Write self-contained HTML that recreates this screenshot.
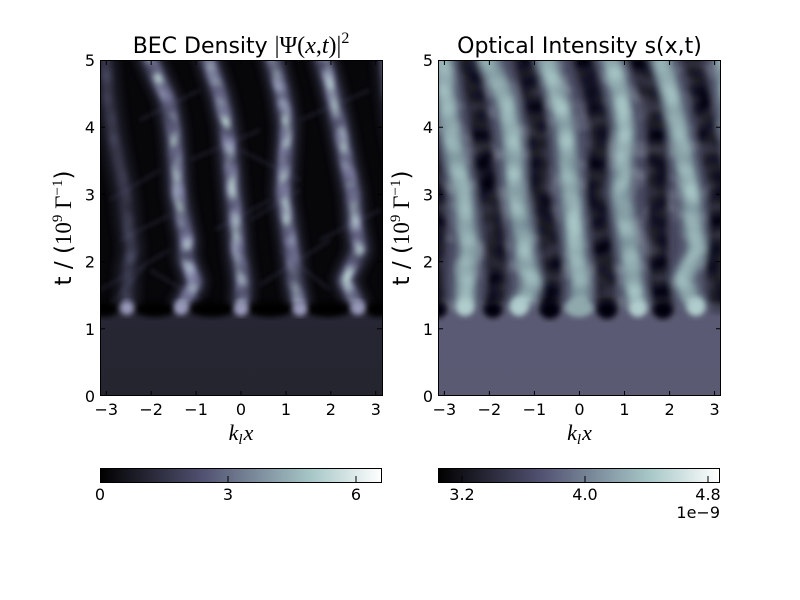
<!DOCTYPE html>
<html><head><meta charset="utf-8"><style>
html,body{margin:0;padding:0;background:#fff;}
svg{display:block;}
text{font-family:"DejaVu Sans","Liberation Sans",sans-serif;fill:#000;}
.m{font-family:"Liberation Serif","DejaVu Serif",serif;}
</style></head><body>
<svg width="800" height="600" viewBox="0 0 800 600" xmlns="http://www.w3.org/2000/svg">
<defs>
  <linearGradient id="bone" x1="0" y1="0" x2="1" y2="0">
    <stop offset="0" stop-color="#000000"/>
    <stop offset="0.365" stop-color="#515171"/>
    <stop offset="0.746" stop-color="#a6c6c6"/>
    <stop offset="1" stop-color="#ffffff"/>
  </linearGradient>
  <linearGradient id="lowL" x1="0" y1="0" x2="0" y2="1">
    <stop offset="0" stop-color="#262634" stop-opacity="0"/>
    <stop offset="0.18" stop-color="#262634" stop-opacity="1"/>
    <stop offset="1" stop-color="#25252f" stop-opacity="1"/>
  </linearGradient>
  <linearGradient id="lowR" x1="0" y1="0" x2="0" y2="1">
    <stop offset="0" stop-color="#5a5a74" stop-opacity="0"/>
    <stop offset="0.18" stop-color="#5a5a74" stop-opacity="1"/>
    <stop offset="1" stop-color="#5a5a73" stop-opacity="1"/>
  </linearGradient>
  <filter id="b2" x="-20%" y="-20%" width="140%" height="140%"><feGaussianBlur stdDeviation="2"/></filter>
  <filter id="b3" x="-20%" y="-20%" width="140%" height="140%"><feGaussianBlur stdDeviation="3"/></filter>
  <filter id="b5" x="-20%" y="-20%" width="140%" height="140%"><feGaussianBlur stdDeviation="5"/></filter>

  <filter id="motA" filterUnits="userSpaceOnUse" x="0" y="0" width="800" height="600">
    <feGaussianBlur in="SourceGraphic" stdDeviation="2" result="b"/>
    <feTurbulence type="fractalNoise" baseFrequency="0.045 0.06" numOctaves="1" seed="5" result="t"/>
    <feColorMatrix in="t" type="matrix" values="0 0 0 0 0  0 0 0 0 0  0 0 0 0 0  1.6 0 0 0 -0.2" result="a"/>
    <feComposite in="b" in2="a" operator="in" result="c"/>
    <feGaussianBlur in="c" stdDeviation="1.8"/>
  </filter>
  <filter id="motB" filterUnits="userSpaceOnUse" x="0" y="0" width="800" height="600">
    <feGaussianBlur in="SourceGraphic" stdDeviation="1.5" result="b"/>
    <feTurbulence type="fractalNoise" baseFrequency="0.05 0.07" numOctaves="1" seed="11" result="t"/>
    <feColorMatrix in="t" type="matrix" values="0 0 0 0 0  0 0 0 0 0  0 0 0 0 0  2.6 0 0 0 -1.0" result="a"/>
    <feComposite in="b" in2="a" operator="in" result="c"/>
    <feGaussianBlur in="c" stdDeviation="2"/>
  </filter>
  <filter id="motC" filterUnits="userSpaceOnUse" x="0" y="0" width="800" height="600">
    <feGaussianBlur in="SourceGraphic" stdDeviation="3" result="b"/>
    <feTurbulence type="fractalNoise" baseFrequency="0.04 0.06" numOctaves="1" seed="23" result="t"/>
    <feColorMatrix in="t" type="matrix" values="0 0 0 0 0  0 0 0 0 0  0 0 0 0 0  1.7 0 0 0 -0.2" result="a"/>
    <feComposite in="b" in2="a" operator="in" result="c"/>
    <feGaussianBlur in="c" stdDeviation="2"/>
  </filter>
  <filter id="motD" filterUnits="userSpaceOnUse" x="0" y="0" width="800" height="600">
    <feGaussianBlur in="SourceGraphic" stdDeviation="2" result="b"/>
    <feTurbulence type="fractalNoise" baseFrequency="0.05 0.07" numOctaves="1" seed="41" result="t"/>
    <feColorMatrix in="t" type="matrix" values="0 0 0 0 0  0 0 0 0 0  0 0 0 0 0  2.2 0 0 0 -0.6" result="a"/>
    <feComposite in="b" in2="a" operator="in" result="c"/>
    <feGaussianBlur in="c" stdDeviation="2"/>
  </filter>
  <filter id="noise" filterUnits="userSpaceOnUse" x="438" y="60" width="283" height="260">
    <feTurbulence type="fractalNoise" baseFrequency="0.035 0.05" numOctaves="2" seed="3"/>
    <feColorMatrix type="matrix" values="0 0 0 0 0.55  0 0 0 0 0.6  0 0 0 0 0.65  2.0 0 0 0 -0.9"/>
    <feGaussianBlur stdDeviation="2"/>
  </filter>

  <clipPath id="cl"><rect x="100" y="60" width="282" height="336"/></clipPath>
  <clipPath id="cr"><rect x="438" y="60" width="283" height="336"/></clipPath>

  <path id="s1" d="M127,308 L128,268 L132,250 L128,225 L125,194 L118,160 L112,127 L108,95 L104,50"/>
  <g id="s25">
    <path d="M181,308 L195,283 L186,258 L187,240 L183,222 L178,194 L176,160 L173,127 L168,100 L158,78 L146,50"/>
    <path d="M241,308 L243,283 L238,253 L236,225 L233,194 L230,160 L227,127 L220,95 L205,50"/>
    <path d="M300,308 L295,283 L292,253 L288,225 L283,194 L285,160 L287,127 L282,95 L271,50"/>
    <path d="M358,308 L345,280 L360,250 L355,225 L353,194 L346,160 L340,127 L333,95 L321,50"/>
  </g>
  <g id="bright">
    <use href="#s1"/>
    <use href="#s25"/>
  </g>
  <g id="dark">
    <path d="M155,314 L160,285 L158,262 L155,225 L150,194 L146,160 L142,127 L137,95 L128,50"/>
    <path d="M212,314 L214,285 L214,262 L208,225 L202,194 L201,160 L199,127 L194,95 L183,50"/>
    <path d="M269,314 L268,285 L266,262 L262,225 L259,194 L260,160 L262,127 L255,95 L242,50"/>
    <path d="M325,314 L322,285 L320,262 L320,225 L319,194 L319,160 L319,127 L312,95 L298,50"/>
    <path d="M382,314 L378,285 L378,262 L381,225 L380,194 L374,160 L368,127 L362,95 L352,50"/>
  </g>
</defs>

<!-- LEFT PANEL -->
<g clip-path="url(#cl)">
  <rect x="100" y="60" width="282" height="336" fill="#07070a"/>
  <!-- faint crossing lines haze -->
  <g fill="none" stroke="#3a3a52" stroke-width="3" opacity="0.4" filter="url(#b2)">
    <path d="M100,290 L170,250 M110,305 L150,260 M200,300 L150,270 M260,285 L330,240 M330,290 L280,250"/>
    <path d="M190,160 L260,130 M250,220 L300,190 M300,120 L370,90 M110,200 L160,170 M140,120 L200,90 M320,240 L380,210"/>
    <path d="M215,230 L270,200 M240,150 L300,180 M120,240 L170,215"/>
  </g>
  <!-- wide glow -->
  <g fill="none" stroke="#3c3c56" stroke-width="22" stroke-linejoin="round" stroke-linecap="round" filter="url(#b5)" opacity="0.85">
    <use href="#s25"/>
    <use href="#s1" opacity="0.6"/>
    <use href="#s1" transform="translate(282,0)" opacity="0.6"/>
  </g>
  <!-- main stripes, mottled -->
  <g fill="none" stroke="#8282a8" stroke-width="13" stroke-linejoin="round" stroke-linecap="round" filter="url(#motA)">
    <use href="#s25"/>
    <use href="#s1" transform="translate(282,0)"/>
  </g>
  <g fill="none" stroke="#6a6a8a" stroke-width="10" stroke-linejoin="round" stroke-linecap="round" filter="url(#motA)" opacity="0.55">
    <use href="#s1"/>
  </g>
  <!-- bright cores -->
  <g fill="none" stroke="#bcd4d4" stroke-width="8" stroke-linecap="round" stroke-linejoin="round" filter="url(#motB)">
    <use href="#s25"/>
  </g>
  <!-- lower uniform region -->
  <rect x="100" y="300" width="282" height="96" fill="url(#lowL)"/>
  <!-- dark blobs between spots -->
  <g fill="#000" filter="url(#b3)">
    <ellipse cx="155" cy="309" rx="20" ry="8"/>
    <ellipse cx="212" cy="309" rx="22" ry="8"/>
    <ellipse cx="270" cy="309" rx="22" ry="8"/>
    <ellipse cx="328" cy="309" rx="22" ry="8"/>
    <ellipse cx="104" cy="309" rx="14" ry="8"/>
    <ellipse cx="378" cy="309" rx="12" ry="8"/>
  </g>
  <!-- spots -->
  <g fill="#9a9abb" filter="url(#b3)">
    <circle cx="127" cy="308" r="7"/>
    <circle cx="181" cy="308" r="7"/>
    <circle cx="241" cy="309" r="7"/>
    <circle cx="300" cy="309" r="7"/>
    <circle cx="358" cy="308" r="7"/>
  </g>
</g>

<!-- RIGHT PANEL -->
<g clip-path="url(#cr)">
  <rect x="438" y="60" width="283" height="336" fill="#4a4a63"/>
  <rect x="438" y="60" width="283" height="260" filter="url(#noise)" opacity="0.55"/>
  <g transform="translate(338,0)">
    <g fill="none" stroke="#262636" stroke-width="20" stroke-linejoin="round" stroke-linecap="round" filter="url(#b5)" opacity="0.8">
      <use href="#dark"/>
      <use href="#dark" transform="translate(-282,0)"/>
    </g>
    <g fill="none" stroke="#060609" stroke-width="16" stroke-linejoin="round" stroke-linecap="round" filter="url(#motD)">
      <use href="#dark"/>
      <use href="#dark" transform="translate(-282,0)"/>
    </g>
    <g fill="none" stroke="#7e9aa0" stroke-width="20" stroke-linejoin="round" stroke-linecap="round" filter="url(#b5)" opacity="0.85">
      <use href="#bright"/>
      <use href="#bright" transform="translate(282,0)"/>
    </g>
    <g fill="none" stroke="#a8c6c6" stroke-width="14" stroke-linejoin="round" stroke-linecap="round" filter="url(#motC)">
      <use href="#bright"/>
      <use href="#bright" transform="translate(282,0)"/>
    </g>
  </g>
  <rect x="438" y="300" width="283" height="96" fill="url(#lowR)"/>
  <g transform="translate(338,0)">
    <g fill="#050508" filter="url(#b3)">
      <ellipse cx="155" cy="310" rx="9" ry="8"/>
      <ellipse cx="212" cy="310" rx="10" ry="9"/>
      <ellipse cx="269" cy="310" rx="10" ry="9"/>
      <ellipse cx="325" cy="310" rx="10" ry="9"/>
      <ellipse cx="100" cy="310" rx="8" ry="8"/>
    </g>
    <g fill="#b0cccc" filter="url(#b3)">
      <ellipse cx="127" cy="307" rx="9" ry="9"/>
      <ellipse cx="181" cy="307" rx="9" ry="9"/>
      <ellipse cx="241" cy="308" rx="14" ry="9" fill="#8fa9ac"/>
      <ellipse cx="300" cy="308" rx="9" ry="9"/>
      <ellipse cx="358" cy="307" rx="9" ry="9"/>
    </g>
  </g>
</g>

<!-- FRAMES AND TICKS -->
<g fill="none" stroke="#000" stroke-width="1">
  <rect x="100.5" y="60.5" width="282" height="335"/>
  <rect x="438.5" y="60.5" width="282" height="335"/>
  <path d="M106.3,396V391 M151.2,396V391 M196.1,396V391 M241,396V391 M286,396V391 M330.9,396V391 M375.8,396V391
           M106.3,60V65 M151.2,60V65 M196.1,60V65 M241,60V65 M286,60V65 M330.9,60V65 M375.8,60V65
           M100,328.8H105 M100,261.6H105 M100,194.4H105 M100,127.2H105
           M382,328.8H377 M382,261.6H377 M382,194.4H377 M382,127.2H377"/>
  <path d="M444.4,396V391 M489.4,396V391 M534.4,396V391 M579.5,396V391 M624.5,396V391 M669.6,396V391 M714.6,396V391
           M444.4,60V65 M489.4,60V65 M534.4,60V65 M579.5,60V65 M624.5,60V65 M669.6,60V65 M714.6,60V65
           M438,328.8H443 M438,261.6H443 M438,194.4H443 M438,127.2H443
           M721,328.8H716 M721,261.6H716 M721,194.4H716 M721,127.2H716"/>
</g>

<!-- TITLES -->
<text x="241" y="53" text-anchor="middle" font-size="22">BEC Density <tspan class="m" font-size="24">|Ψ(<tspan font-style="italic">x</tspan>,<tspan font-style="italic">t</tspan>)|<tspan font-size="16" dy="-10">2</tspan></tspan></text>
<text x="579.5" y="53" text-anchor="middle" font-size="22">Optical Intensity s(x,t)</text>

<!-- X TICK LABELS -->
<g font-size="16" text-anchor="middle">
  <text x="106.3" y="415">−3</text><text x="151.2" y="415">−2</text><text x="196.1" y="415">−1</text>
  <text x="241" y="415">0</text><text x="286" y="415">1</text><text x="330.9" y="415">2</text><text x="375.8" y="415">3</text>
  <text x="444.4" y="415">−3</text><text x="489.4" y="415">−2</text><text x="534.4" y="415">−1</text>
  <text x="579.5" y="415">0</text><text x="624.5" y="415">1</text><text x="669.6" y="415">2</text><text x="714.6" y="415">3</text>
</g>
<!-- Y TICK LABELS -->
<g font-size="16" text-anchor="end">
  <text x="95" y="402">0</text><text x="95" y="334.8">1</text><text x="95" y="267.6">2</text>
  <text x="95" y="200.4">3</text><text x="95" y="133.2">4</text><text x="95" y="66">5</text>
  <text x="433" y="402">0</text><text x="433" y="334.8">1</text><text x="433" y="267.6">2</text>
  <text x="433" y="200.4">3</text><text x="433" y="133.2">4</text><text x="433" y="66">5</text>
</g>

<!-- AXIS LABELS -->
<text class="m" x="241" y="440" text-anchor="middle" font-size="22" font-style="italic">k<tspan font-size="15" dy="4">l</tspan><tspan dy="-4" dx="1">x</tspan></text>
<text class="m" x="579.5" y="440" text-anchor="middle" font-size="22" font-style="italic">k<tspan font-size="15" dy="4">l</tspan><tspan dy="-4" dx="1">x</tspan></text>

<text transform="translate(71,228) rotate(-90)" text-anchor="middle" font-size="23">t / (<tspan class="m">10<tspan font-size="15" dy="-9">9</tspan><tspan dy="9"> Γ</tspan><tspan font-size="15" dy="-9">−1</tspan></tspan><tspan dy="9">)</tspan></text>
<text transform="translate(409,228) rotate(-90)" text-anchor="middle" font-size="23">t / (<tspan class="m">10<tspan font-size="15" dy="-9">9</tspan><tspan dy="9"> Γ</tspan><tspan font-size="15" dy="-9">−1</tspan></tspan><tspan dy="9">)</tspan></text>

<!-- COLORBARS -->
<rect x="100" y="468" width="282" height="15" fill="url(#bone)"/>
<rect x="100.5" y="468.5" width="281" height="14" fill="none" stroke="#000"/>
<rect x="438" y="468" width="282" height="15" fill="url(#bone)"/>
<rect x="438.5" y="468.5" width="281" height="14" fill="none" stroke="#000"/>
<path d="M228,483V476 M356,483V476 M462,483V476 M585,483V476 M708,483V476" stroke="#000" stroke-width="1"/>
<g font-size="16" text-anchor="middle">
  <text x="100" y="500">0</text><text x="228" y="500">3</text><text x="356" y="500">6</text>
  <text x="462" y="500">3.2</text><text x="585" y="500">4.0</text><text x="708" y="500">4.8</text>
</g>
<text x="720" y="518" font-size="16" text-anchor="end">1e−9</text>
</svg>
</body></html>
